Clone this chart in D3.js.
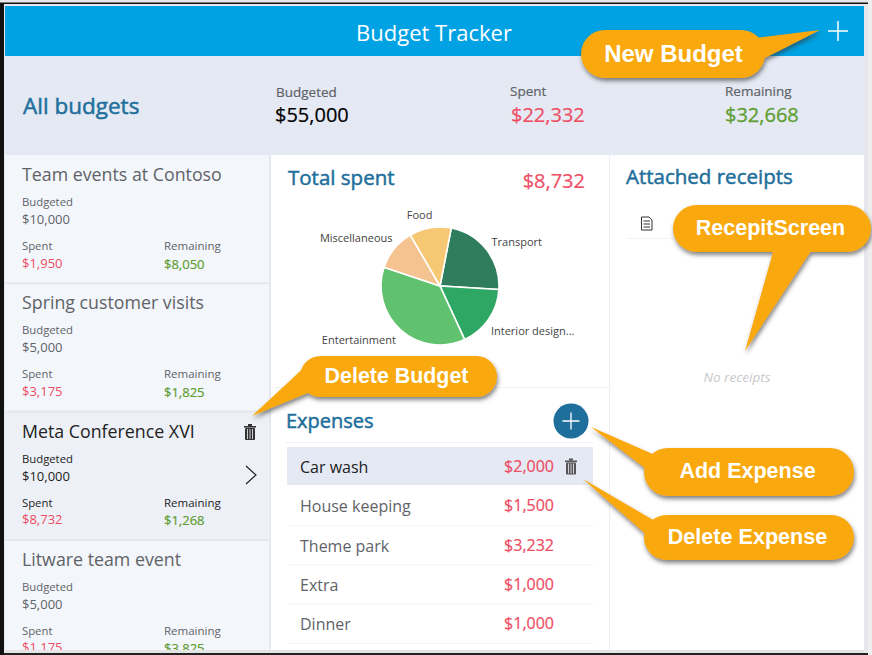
<!DOCTYPE html>
<html lang="en">
  <head>
    <meta charset="utf-8">
    <title>Budget Tracker</title>
    <script src="https://cdn.jsdelivr.net/npm/d3@7"></script>
    <style>
      html, body { margin: 0; padding: 0; background: #fff; overflow: hidden; }
      svg { display: block; }
      text { font-family: "Open Sans", sans-serif; dominant-baseline: central; }
    </style>
  </head>
  <body>
    <script>

    // budgets list on the left
    var budgetNames = ["Team events at Contoso", "Spring customer visits", "Meta Conference XVI", "Litware team event"];
    var budgetAmounts = ["$10,000", "$5,000", "$10,000", "$5,000"];
    var budgetSpent = ["$1,950", "$3,175", "$8,732", "$1,175"];
    var budgetRemaining = ["$8,050", "$1,825", "$1,268", "$3,825"];

    // pie slices, same amounts as the expenses
    var pieCategories = ["Transport", "Interior design...", "Entertainment", "Miscellaneous", "Food"];
    var pieValues = [2000, 1500, 3232, 1000, 1000];
    var pieColors = ["#2f7d5c", "#2ea664", "#60c26f", "#f4c390", "#f6c874"];

    var expenseNames = ["Car wash", "House keeping", "Theme park", "Extra", "Dinner"];
    var expenseAmounts = ["$2,000", "$1,500", "$3,232", "$1,000", "$1,000"];

    var blue = "#1f6f9c", red = "#ee4d63", green = "#5f9e32", grey = "#5f6368";

    var svg = d3.select("body").append("svg").attr("width", 872).attr("height", 655);

    function rect(x, y, w, h, fill) {
      return svg.append("rect").attr("x", x).attr("y", y).attr("width", w).attr("height", h).attr("fill", fill);
    }

    // thick > 0 adds a thin stroke, the font has no medium weight
    function label(x, y, str, size, fill, thick, anchor) {
      return svg.append("text").attr("x", x).attr("y", y).text(str)
        .attr("font-size", size).attr("fill", fill)
        .attr("stroke", thick ? fill : "none").attr("stroke-width", thick || 0)
        .attr("text-anchor", anchor || "start");
    }

    function trash(x, y, color) {
      var g = svg.append("g").attr("transform", "translate(" + x + "," + y + ")").attr("fill", color);
      g.append("rect").attr("x", -6).attr("y", -6).attr("width", 12).attr("height", 1.6);
      g.append("rect").attr("x", -2).attr("y", -8).attr("width", 4).attr("height", 2);
      g.append("rect").attr("x", -5).attr("y", -4).attr("width", 10).attr("height", 12).attr("rx", 1);
      [-2.5, 0, 2.5].forEach(function(dx) {
        g.append("rect").attr("x", dx - 0.4).attr("y", -3).attr("width", 0.8).attr("height", 10).attr("fill", "#f3f6fb");
      });
    }

    function plus(x, y, r, color, width) {
      svg.append("path").attr("d", "M" + (x - r) + "," + y + "H" + (x + r) + "M" + x + "," + (y - r) + "V" + (y + r))
        .attr("stroke", color).attr("stroke-width", width || 1.4).attr("fill", "none");
    }

    // frame and page backgrounds
    rect(0, 0, 872, 655, "#111");
    rect(0, 0, 872, 2.5, "#e8e8e8");
    rect(4, 4, 864, 649, "#e6e8ee");
    rect(5, 6, 859, 646, "#fff");
    rect(5, 6, 859, 50, "#00a2e3");
    rect(5, 56, 859, 99, "#e4e9f3");
    rect(5, 155, 264, 497, "#f3f6fb");
    rect(269, 155, 2, 497, "#e4e9f3");
    rect(609, 155, 1, 497, "#edf0f6");
    rect(271, 387, 338, 1, "#f0f2f7");

    // header
    label(434, 31.5, "Budget Tracker", 22, "#fff", 0, "middle");
    plus(838, 31, 10, "#fff", 1.5);

    // summary strip
    label(23, 105.5, "All budgets", 22.5, blue, 0.5);
    label(276, 91.5, "Budgeted", 13.5, grey, 0.2);
    label(275, 114.5, "$55,000", 20, "#000", 0.2);
    label(510, 91, "Spent", 13.5, grey, 0.2);
    label(511, 114.5, "$22,332", 20, red, 0.2);
    label(725, 91, "Remaining", 13.5, grey, 0.2);
    label(725, 114.5, "$32,668", 20, green, 0.3);

    // budget list
    var rowH = 128.3;
    budgetNames.forEach(function(name, i) {
      var top = 155 + i * rowH;
      var selected = i === 2;
      if (selected) rect(5, top, 264, rowH, "#edf1f7");
      if (i > 0) rect(5, top - 1, 264, 2, "#e4e7ed");
      var small = selected ? "#222" : grey;
      label(22, top + 19, name, 17.8, selected ? "#222" : grey);
      label(22, top + 46.5, "Budgeted", 11.3, small);
      label(22, top + 64, budgetAmounts[i], 13, selected ? "#222" : grey);
      label(22, top + 90.5, "Spent", 11.3, small);
      label(22, top + 107.5, budgetSpent[i], 13, red);
      label(164, top + 90.5, "Remaining", 11.5, small);
      label(164, top + 108.5, budgetRemaining[i], 13, green, 0.2);
    });
    // last row is cut by the bottom of the frame
    rect(5, 650, 859, 3, "#e4e4e4");
    rect(0, 653, 872, 2, "#222");
    rect(0, 650, 4, 5, "#111");
    rect(868, 0, 4, 655, "#eee");
    trash(250, 432, "#333");
    svg.append("path").attr("d", "M246,466L256,475L246,484").attr("fill", "none").attr("stroke", "#222").attr("stroke-width", 1.2);

    // total spent
    label(288, 177, "Total spent", 20.5, blue, 0.5);
    label(585, 180, "$8,732", 20, red, 0.2, "end");

    var pieR = 59;
    var pie = d3.pie().sort(null)
      .startAngle(11 * Math.PI / 180)
      .endAngle(371 * Math.PI / 180);
    var arc = d3.arc().innerRadius(0).outerRadius(pieR);
    var labelArc = d3.arc().innerRadius(69).outerRadius(69);
    var pieG = svg.append("g").attr("transform", "translate(440,286)");
    var slices = pie(pieValues);

    pieG.selectAll("path").data(slices).enter().append("path")
      .attr("d", arc)
      .attr("fill", function(d, i) { return pieColors[i]; })
      .attr("stroke", "#fff").attr("stroke-width", 1.6);

    // labels sit just outside of each slice
    var labelNudge = [[-3, -2], [-6, 6], [2, 2], [6, -5], [4, -3]];
    pieG.selectAll("text").data(slices).enter().append("text")
      .attr("x", function(d, i) { return labelArc.centroid(d)[0] + labelNudge[i][0]; })
      .attr("y", function(d, i) { return labelArc.centroid(d)[1] + labelNudge[i][1]; })
      .attr("text-anchor", function(d, i) { return i < 2 ? "start" : "end"; })
      .attr("font-size", 11).attr("fill", "#444")
      .text(function(d, i) { return pieCategories[i]; });

    // expenses
    label(286, 420.5, "Expenses", 20, blue, 0.5);
    svg.append("circle").attr("cx", 571).attr("cy", 421).attr("r", 17.5).attr("fill", blue);
    plus(571, 421, 8.5, "#fff", 1.3);
    rect(287, 442, 306, 1, "#f0f2f7");
    rect(287, 447, 306, 38, "#e4e9f3");

    expenseNames.forEach(function(name, i) {
      var y = 467 + i * 39.3;
      label(300, y, name, 16, i === 0 ? "#222" : grey);
      label(554, y - 1, expenseAmounts[i], 16, red, 0.2, "end");
      if (i > 0) rect(288, 486 + i * 39.2, 305, 1, "#f0f2f7");
    });
    trash(571, 466.5, "#555");

    // attached receipts
    label(626, 175.5, "Attached receipts", 20.5, blue, 0.5);
    svg.append("path").attr("d", "M641.5,217H649L652,220V230H641.5ZM643.5,221H650M643.5,224H650M643.5,227H650")
      .attr("fill", "none").attr("stroke", "#333").attr("stroke-width", 1);
    rect(627, 238, 220, 1, "#f0f2f7");
    label(737, 377, "No receipts", 13.5, "#c9c9c9", 0, "middle").attr("font-style", "italic");

    // callouts
    var defs = svg.append("defs");
    var shadow = defs.append("filter").attr("id", "shadow").attr("x", "-20%").attr("y", "-20%").attr("width", "140%").attr("height", "150%");
    shadow.append("feDropShadow").attr("dx", 1).attr("dy", 3).attr("stdDeviation", 2).attr("flood-color", "#333").attr("flood-opacity", 0.6);

    function callout(x, y, w, h, tail, str, size, textX) {
      var g = svg.append("g").attr("filter", "url(#shadow)").attr("fill", "#f9a90a");
      g.append("path").attr("d", "M" + tail.join("L") + "Z");
      g.append("rect").attr("x", x).attr("y", y).attr("width", w).attr("height", h).attr("rx", h / 2);
      svg.append("text").attr("x", textX).attr("y", y + h / 2 - 1).text(str)
        .attr("text-anchor", "middle").attr("fill", "#fff").attr("font-weight", 700).attr("font-size", size)
        .style("font-family", "Liberation Sans");
    }

    callout(581, 30, 184, 48, [[755, 38], [820, 30], [765, 58]], "New Budget", 24, 673.5);
    callout(673, 205, 198, 47, [[815, 245], [745, 351], [775, 245]], "RecepitScreen", 21.5, 770.5);
    callout(300, 356, 197, 41, [[310, 362], [252, 416], [315, 390]], "Delete Budget", 21.4, 396.5);
    callout(644, 448, 210, 48, [[655, 455], [591, 427], [650, 472]], "Add Expense", 21.5, 747.5);
    callout(644, 515, 210, 45, [[655, 521], [583, 479], [650, 538]], "Delete Expense", 21.6, 747.5);

    </script>
  </body>
</html>
